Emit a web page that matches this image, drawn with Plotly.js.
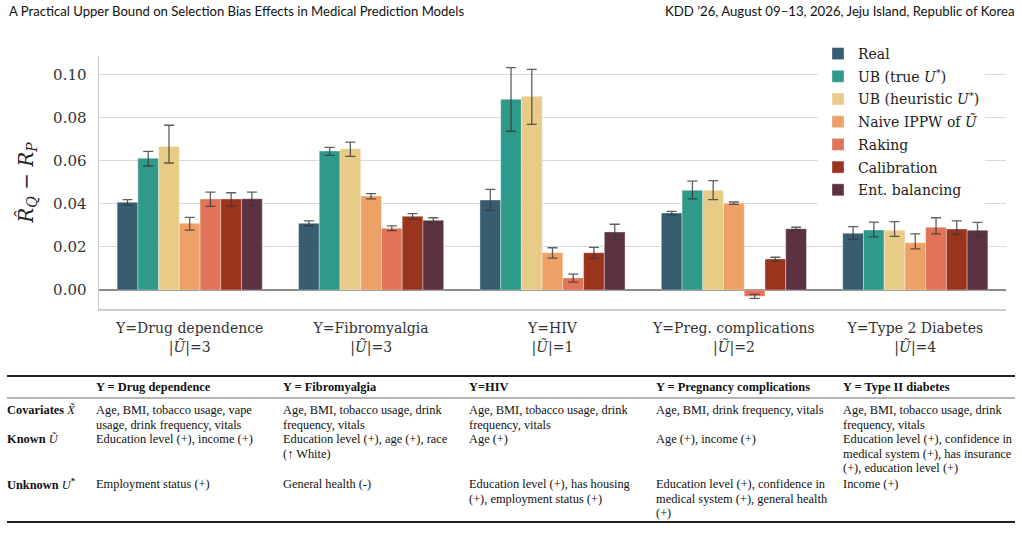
<!DOCTYPE html>
<html>
<head>
<meta charset="utf-8">
<script src="https://cdn.plot.ly/plotly-3.0.1.min.js"></script>
<style>html,body{margin:0;padding:0;background:#fff;}#chart{width:1022px;height:552px;}</style>
</head>
<body>
<div id="chart"></div>
<script>
// ---------- data ----------
const categories = [
  "Y=Drug dependence<br>|<i>Ũ</i>|=3",
  "Y=Fibromyalgia<br>|<i>Ũ</i>|=3",
  "Y=HIV<br>|<i>Ũ</i>|=1",
  "Y=Preg. complications<br>|<i>Ũ</i>|=2",
  "Y=Type 2 Diabetes<br>|<i>Ũ</i>|=4"
];
const seriesNames = [
  "Real",
  "UB (true <i>U</i><sup>*</sup>)",
  "UB (heuristic <i>U</i><sup>*</sup>)",
  "Naive IPPW of <i>Ũ</i>",
  "Raking",
  "Calibration",
  "Ent. balancing"
];
const realVals   = [0.0407, 0.0309, 0.0417, 0.0357, 0.0263];
const ubTrueVals = [0.0611, 0.0644, 0.0884, 0.0462, 0.0278];
const ubHeurVals = [0.0665, 0.0655, 0.0898, 0.0462, 0.0277];
const naiveVals  = [0.0309, 0.0436, 0.0173, 0.0402, 0.0219];
const rakingVals = [0.0422, 0.0286, 0.0056, -0.0029, 0.0291];
const calibVals  = [0.0422, 0.0342, 0.0173, 0.0144, 0.0283];
const entVals    = [0.0423, 0.0323, 0.0269, 0.0284, 0.0277];

const realErrUp   = [0.0012, 0.0012, 0.0050, 0.0008, 0.0031];
const realErrDn   = [0.0013, 0.0011, 0.0048, 0.0009, 0.0028];
const ubTrueErrUp = [0.0032, 0.0017, 0.0147, 0.0043, 0.0037];
const ubTrueErrDn = [0.0036, 0.0020, 0.0148, 0.0039, 0.0032];
const ubHeurErrUp = [0.0099, 0.0031, 0.0125, 0.0045, 0.0040];
const ubHeurErrDn = [0.0076, 0.0035, 0.0130, 0.0043, 0.0028];
const naiveErrUp  = [0.0028, 0.0011, 0.0023, 0.0006, 0.0041];
const naiveErrDn  = [0.0031, 0.0013, 0.0025, 0.0005, 0.0028];
const rakingErrUp = [0.0032, 0.0011, 0.0018, 0.0009, 0.0044];
const rakingErrDn = [0.0034, 0.0011, 0.0019, 0.0010, 0.0031];
const calibErrUp  = [0.0029, 0.0012, 0.0025, 0.0008, 0.0038];
const calibErrDn  = [0.0033, 0.0013, 0.0026, 0.0010, 0.0025];
const entErrUp    = [0.0031, 0.0012, 0.0036, 0.0007, 0.0037];
const entErrDn    = [0.0032, 0.0011, 0.0037, 0.0004, 0.0030];

const yTickVals = [0, 0.02, 0.04, 0.06, 0.08, 0.10];
const yTitle = "<i>R̂</i><sub><i>Q</i></sub> − <i>R</i><sub><i>P</i></sub>";

const headerLeft = "A Practical Upper Bound on Selection Bias Effects in Medical Prediction Models";
const headerRight = "KDD ’26, August 09–13, 2026, Jeju Island, Republic of Korea";

const tableHeaders = ["", "Y = Drug dependence", "Y = Fibromyalgia", "Y=HIV", "Y = Pregnancy complications", "Y = Type II diabetes"];
const rowLabels = ["Covariates <i>X̃</i>", "Known <i>Ũ</i>", "Unknown <i>U</i><sup>*</sup>"];
const covariatesRow = [
  ["Age, BMI, tobacco usage, vape", "usage, drink frequency, vitals"],
  ["Age, BMI, tobacco usage, drink", "frequency, vitals"],
  ["Age, BMI, tobacco usage, drink", "frequency, vitals"],
  ["Age, BMI, drink frequency, vitals"],
  ["Age, BMI, tobacco usage, drink", "frequency, vitals"]
];
const knownRow = [
  ["Education level (+), income (+)"],
  ["Education level (+), age (+), race", "(↑ White)"],
  ["Age (+)"],
  ["Age (+), income (+)"],
  ["Education level (+), confidence in", "medical system (+), has insurance", "(+), education level (+)"]
];
const unknownRow = [
  ["Employment status (+)"],
  ["General health (-)"],
  ["Education level (+), has housing", "(+), employment status (+)"],
  ["Education level (+), confidence in", "medical system (+), general health", "(+)"],
  ["Income (+)"]
];

// ---------- styling ----------
const colors = ["#365d70", "#2f9a8a", "#e8cb87", "#eda166", "#e07358", "#9a341d", "#5c3241"];
const allVals = [realVals, ubTrueVals, ubHeurVals, naiveVals, rakingVals, calibVals, entVals];
const allUp = [realErrUp, ubTrueErrUp, ubHeurErrUp, naiveErrUp, rakingErrUp, calibErrUp, entErrUp];
const allDn = [realErrDn, ubTrueErrDn, ubHeurErrDn, naiveErrDn, rakingErrDn, calibErrDn, entErrDn];

const traces = seriesNames.map((name, i) => ({
  type: "bar",
  name: name,
  x: categories,
  y: allVals[i],
  legendgroup: "g" + i,
  marker: { color: colors[i], line: { color: "rgba(255,255,255,0.35)", width: 1 } },
  error_y: { type: "data", symmetric: false, array: allUp[i], arrayminus: allDn[i],
             color: "rgba(55,55,55,0.8)", thickness: 1.3, width: 5 },
  hoverinfo: "skip"
}));

// pixel -> paper helpers (layout positions only)
const L = 99, R = 1006, T = 56, B = 309;
const px = p => (p - L) / (R - L);
const py = p => (B - p) / (B - T);

const annotations = [];
const shapes = [];
const serif = "Liberation Serif";
const tSize = 12.4;

annotations.push({ text: headerLeft, x: px(7), y: py(11), xref: "paper", yref: "paper", xanchor: "left", yanchor: "middle",
  showarrow: false, font: { family: "Lato", size: 13.1, color: "#111" } });
annotations.push({ text: headerRight, x: px(1016), y: py(11), xref: "paper", yref: "paper", xanchor: "right", yanchor: "middle",
  showarrow: false, font: { family: "Lato", size: 13.2, color: "#111" } });

// table
const colX = [5, 94, 281, 467, 654, 841];
const rowY = [410, 439, 484];
const lineH = 14.6;
tableHeaders.forEach((h, c) => {
  if (!h) return;
  annotations.push({ text: "<b>" + h + "</b>", x: px(colX[c]), y: py(387), xref: "paper", yref: "paper",
    xanchor: "left", yanchor: "middle", showarrow: false, font: { family: serif, size: tSize, color: "#111" } });
});
rowLabels.forEach((lab, r) => {
  annotations.push({ text: "<b>" + lab.replace(/<i>/g, "</b><i>").replace(/<\/i>/g, "</i><b>") + "</b>", x: px(colX[0]), y: py(rowY[r]), xref: "paper", yref: "paper",
    xanchor: "left", yanchor: "middle", showarrow: false, font: { family: serif, size: tSize, color: "#111" } });
});
[covariatesRow, knownRow, unknownRow].forEach((row, r) => {
  row.forEach((lines, c) => {
    lines.forEach((ln, k) => {
      annotations.push({ text: ln, x: px(colX[c + 1]), y: py(rowY[r] + k * lineH), xref: "paper", yref: "paper",
        xanchor: "left", yanchor: "middle", showarrow: false, font: { family: serif, size: tSize, color: "#111" } });
    });
  });
});
shapes.push({ type: "line", xref: "paper", yref: "paper", x0: px(7), x1: px(1015), y0: py(376), y1: py(376), line: { color: "#222", width: 1.8 } });
shapes.push({ type: "line", xref: "paper", yref: "paper", x0: px(7), x1: px(1015), y0: py(398), y1: py(398), line: { color: "#444", width: 0.8 } });
shapes.push({ type: "line", xref: "paper", yref: "paper", x0: px(7), x1: px(1015), y0: py(522), y1: py(522), line: { color: "#222", width: 1.8 } });

const layout = {
  width: 1022, height: 552,
  margin: { l: L, r: 1022 - R, t: T, b: 552 - B },
  paper_bgcolor: "#fff", plot_bgcolor: "#fff",
  barmode: "group", bargap: 0.2, bargroupgap: 0,
  font: { family: "DejaVu Serif", size: 14, color: "#333" },
  showlegend: true,
  legend: { x: px(818), y: py(38), xanchor: "left", yanchor: "top", bgcolor: "rgba(255,255,255,1)",
            font: { family: "DejaVu Serif", size: 14, color: "#222" }, tracegroupgap: 1.5 },
  xaxis: { type: "category", showgrid: false, showline: true, linecolor: "#cccccc", linewidth: 1.5,
           ticks: "", tickfont: { family: "DejaVu Serif", size: 14, color: "#333" }, ticklabelstandoff: 6,
           range: [-0.5, 4.5], fixedrange: true },
  yaxis: { range: [-0.0088, 0.1085], tickvals: yTickVals, tickformat: ".2f", showgrid: true, gridcolor: "#d9d9d9", gridwidth: 1.2,
           zeroline: true, zerolinecolor: "#8a8a8a", zerolinewidth: 2, showline: true, linecolor: "#cccccc", linewidth: 1.5,
           ticks: "", ticklabelstandoff: 8, tickfont: { family: "DejaVu Serif", size: 15, color: "#333" },
           title: { text: yTitle, font: { family: "DejaVu Serif", size: 20, color: "#222" }, standoff: 14 } },
  annotations: annotations,
  shapes: shapes
};

Plotly.newPlot("chart", traces, layout, { displayModeBar: false, staticPlot: true });
</script>
</body>
</html>
